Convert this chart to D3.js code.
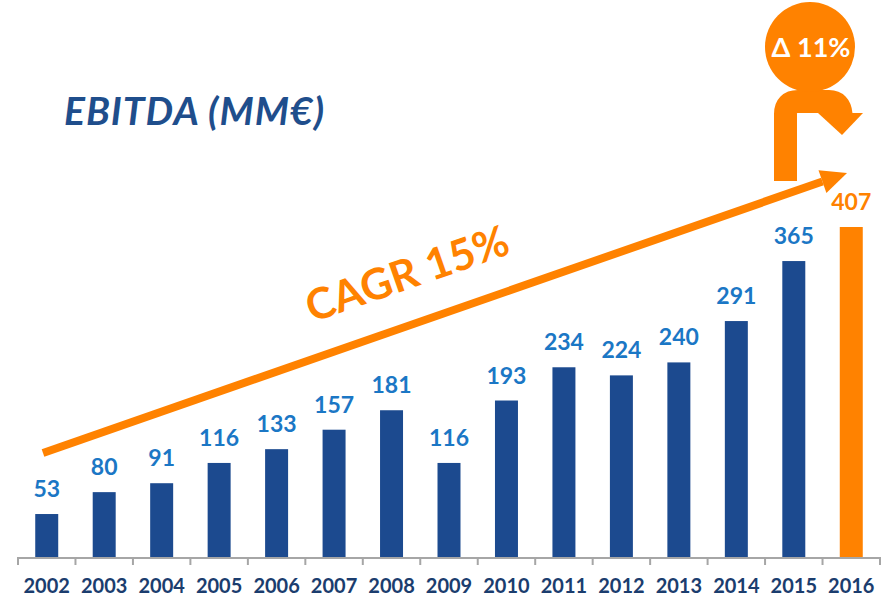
<!DOCTYPE html>
<html>
<head>
<meta charset="utf-8">
<script src="https://cdn.jsdelivr.net/npm/d3@7"></script>
<style>
  html, body { margin: 0; padding: 0; background: #fff; }
  svg { display: block; font-family: Lato, "Open Sans", sans-serif; }
</style>
</head>
<body>
<div class="vis-ebitda"></div>
<script>
// data
const years = ['2002','2003','2004','2005','2006','2007','2008','2009','2010','2011','2012','2013','2014','2015','2016'];
const ebitda = [53, 80, 91, 116, 133, 157, 181, 116, 193, 234, 224, 240, 291, 365, 407];
const highlightYear = '2016';
const cagrLabel = 'CAGR 15%';
const deltaLabel = '\u0394 11%';
const title = 'EBITDA (MM\u20AC)';

const width = 886;
const height = 599;
const blue = '#1c4a8f';
const orange = '#ff8200';

const svg = d3.select('.vis-ebitda').append('svg')
  .attr('width', width).attr('height', height);

// x scale: bands between the ticks
const x = d3.scaleBand()
  .domain(years)
  .range([18, 880])
  .paddingInner(0.6)
  .paddingOuter(0.3);

// y scale
const y = d3.scaleLinear()
  .domain([0, 407])
  .range([557, 227]);

const rows = years.map((yr, i) => ({year: yr, value: ebitda[i]}));

// bars
svg.selectAll('rect.bar')
  .data(rows)
  .enter()
  .append('rect')
  .attr('class', 'bar')
  .attr('x', d => x(d.year))
  .attr('y', d => y(d.value))
  .attr('width', x.bandwidth())
  .attr('height', d => y(0) - y(d.value))
  .attr('fill', d => d.year === highlightYear ? orange : blue);

// value labels
svg.selectAll('text.val')
  .data(rows)
  .enter()
  .append('text')
  .attr('class', 'val')
  .attr('x', d => x(d.year) + x.bandwidth() / 2)
  .attr('y', d => y(d.value) - 17)
  .attr('text-anchor', 'middle')
  .attr('font-size', 23)
  .attr('font-weight', 'bold')
  .attr('fill', d => d.year === highlightYear ? orange : '#1b77c5')
  .text(d => d.value);

// axis line + ticks between categories
const step = x.step();
const first = x(years[0]) - step * x.paddingInner() / 2;
svg.append('line')
  .attr('x1', first).attr('x2', first + step * years.length)
  .attr('y1', y(0) + 1).attr('y2', y(0) + 1)
  .attr('stroke', '#a6a6a6').attr('stroke-width', 2);
svg.selectAll('line.tick')
  .data(d3.range(years.length + 1))
  .enter()
  .append('line')
  .attr('class', 'tick')
  .attr('x1', i => first + i * step).attr('x2', i => first + i * step)
  .attr('y1', y(0)).attr('y2', y(0) + 8)
  .attr('stroke', '#a6a6a6').attr('stroke-width', 2);

// year labels
svg.selectAll('text.yr')
  .data(years)
  .enter()
  .append('text')
  .attr('class', 'yr')
  .attr('x', d => x(d) + x.bandwidth() / 2)
  .attr('y', y(0) + 36)
  .attr('text-anchor', 'middle')
  .attr('font-size', 20)
  .attr('font-weight', 'bold')
  .attr('fill', '#1b3d6e')
  .text(d => d);

// title
svg.append('text')
  .attr('x', 64).attr('y', 125)
  .attr('font-size', 39)
  .attr('font-weight', 'bold')
  .attr('font-style', 'italic')
  .attr('letter-spacing', 1)
  .attr('fill', '#1f4e8c')
  .text(title);

// CAGR arrow
const x0 = 43, y0 = 453, x1 = 847, y1 = 173;
const ang = Math.atan2(y1 - y0, x1 - x0);
const headLen = 26, headW = 12;
const bx = x1 - headLen * Math.cos(ang), by = y1 - headLen * Math.sin(ang);
svg.append('line')
  .attr('x1', x0).attr('y1', y0).attr('x2', bx).attr('y2', by)
  .attr('stroke', orange).attr('stroke-width', 8);
svg.append('path')
  .attr('d', d3.line()([
    [x1, y1],
    [bx + headW * Math.sin(ang), by - headW * Math.cos(ang)],
    [bx - headW * Math.sin(ang), by + headW * Math.cos(ang)]
  ]) + 'Z')
  .attr('fill', orange);

svg.append('text')
  .attr('transform', 'translate(412,288) rotate(' + (ang * 180 / Math.PI) + ')')
  .attr('text-anchor', 'middle')
  .attr('font-size', 43)
  .attr('font-weight', 'bold')
  .attr('fill', orange)
  .text(cagrLabel);

// curved arrow under the circle
svg.append('path')
  .attr('d', 'M785.5,181 V114 Q785.5,101.5 798,101.5 L829,101.5 Q840,101.5 841,114')
  .attr('fill', 'none')
  .attr('stroke', orange)
  .attr('stroke-width', 23);
svg.append('path')
  .attr('d', 'M818,113 L863,113 L842,135 Z')
  .attr('fill', orange);

// delta circle
svg.append('circle')
  .attr('cx', 810).attr('cy', 47)
  .attr('r', 45)
  .attr('fill', orange);
svg.append('text')
  .attr('x', 811).attr('y', 57)
  .attr('text-anchor', 'middle')
  .attr('font-size', 27)
  .attr('font-weight', 'bold')
  .attr('fill', '#fff')
  .text(deltaLabel);
</script>
</body>
</html>
